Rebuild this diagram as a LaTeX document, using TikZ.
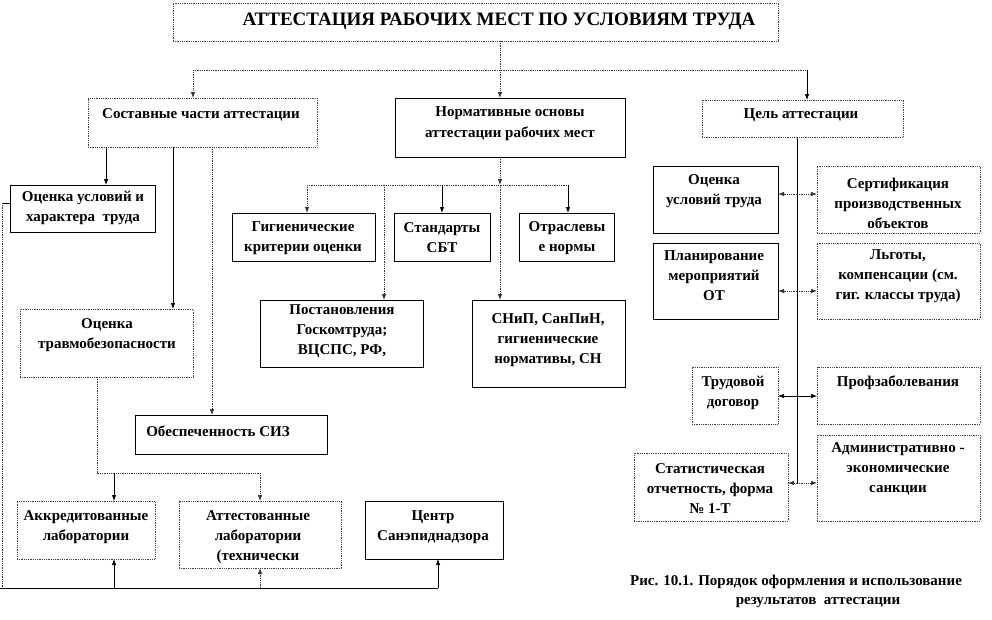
\documentclass[tikz,border=0pt]{standalone}
\usepackage{fontspec}
\setmainfont{Liberation Serif}
\usetikzlibrary{arrows.meta,calc}
\tikzset{
 sbox/.style={draw=black, line width=0.6pt, inner sep=0pt, outer sep=0pt, anchor=north west},
 dbox/.style={draw=black!75, densely dotted, line width=0.8pt, inner sep=0pt, outer sep=0pt, anchor=north west},
 txt/.style={font=\bfseries\fontsize{15}{20}\selectfont, align=center, inner sep=0pt},
 sl/.style={line width=0.7pt, draw=black},
 dl/.style={line width=0.8pt, densely dotted, draw=black!80},
 tip/.style={-{Latex[length=6pt,width=4.5pt]}},
}
\newcommand{\mkbox}[6]{\node[#6, minimum width={(#4-#2)*1pt}, minimum height={(#5-#3)*1pt}] (#1) at (#2,#3) {};}
\begin{document}
\begin{tikzpicture}[x=1pt,y=-1pt]
\useasboundingbox (0,0) rectangle (992,619);
% boxes
\mkbox{title}{173}{3}{778}{41}{dbox}
\mkbox{sost}{88}{98}{317}{147}{dbox}
\mkbox{norm}{395}{98}{625}{157}{sbox}
\mkbox{cel}{702}{100}{903}{137}{dbox}
\mkbox{ouh}{10}{185}{155}{232}{sbox}
\mkbox{gig}{232}{213}{375}{261}{sbox}
\mkbox{std}{394}{213}{490}{261}{sbox}
\mkbox{otr}{519}{213}{614}{261}{sbox}
\mkbox{post}{260}{300}{423}{367}{sbox}
\mkbox{snip}{472}{300}{625}{387}{sbox}
\mkbox{otb}{20}{309}{193}{377}{dbox}
\mkbox{siz}{135}{415}{327}{454}{sbox}
\mkbox{akk}{17}{501}{155}{559}{dbox}
\mkbox{att}{179}{501}{341}{568}{dbox}
\mkbox{cen}{365}{501}{503}{559}{sbox}
\mkbox{ouc}{653}{166}{778}{233}{sbox}
\mkbox{sert}{817}{166}{980}{233}{dbox}
\mkbox{plan}{653}{243}{778}{319}{sbox}
\mkbox{lgot}{817}{243}{980}{319}{dbox}
\mkbox{trud}{692}{367}{778}{424}{dbox}
\mkbox{prof}{817}{367}{980}{424}{dbox}
\mkbox{adm}{817}{435}{980}{521}{dbox}
\mkbox{stat}{634}{453}{788}{521}{dbox}
% texts
\node[txt,font=\bfseries\fontsize{19}{22}\selectfont] (tT) at (499,21) {АТТЕСТАЦИЯ РАБОЧИХ МЕСТ ПО УСЛОВИЯМ ТРУДА};
\node[txt] (sostT) at (201,115) {Составные части аттестации};
\node[txt] (normT) at (510,124) {Нормативные основы\\[1pt]аттестации рабочих мест};
\node[txt] (celT) at (801,115) {Цель аттестации};
\node[txt] (ouhT) at (83,208) {Оценка условий и\\характера~ труда};
\node[txt] (gigT) at (303,238) {Гигиенические\\критерии оценки};
\node[txt] (stdT) at (442,238) {Стандарты\\СБТ};
\node[txt] (otrT) at (567,238) {Отраслевы\\е нормы};
\node[txt] (postT) at (342,331) {Постановления\\Госкомтруда;\\ВЦСПС, РФ,};
\node[txt] (snipT) at (548,340) {СНиП, СанПиН,\\гигиенические\\нормативы, СН};
\node[txt] (otbT) at (107,335) {Оценка\\травмобезопасности};
\node[txt] (sizT) at (218,431) {Обеспеченность СИЗ};
\node[txt] (akkT) at (86,527) {Аккредитованные\\лаборатории};
\node[txt] (attT) at (258,537) {Аттестованные\\лаборатории\\(технически};
\node[txt] (cenT) at (433,527) {Центр\\Санэпиднадзора};
\node[txt] (oucT) at (714,191) {Оценка\\условий труда};
\node[txt] (sertT) at (898,203) {Сертификация\\производственных\\объектов};
\node[txt] (planT) at (714,276) {Планирование\\мероприятий\\ОТ};
\node[txt] (lgotT) at (898,276) {Льготы,\\компенсации (см.\\гиг. классы труда)};
\node[txt] (trudT) at (733,393) {Трудовой\\договор};
\node[txt] (profT) at (898,383) {Профзаболевания};
\node[txt] (admT) at (898,469) {Административно -\\экономические\\санкции};
\node[txt] (statT) at (710,489) {Статистическая\\отчетность, форма\\№ 1-Т};
\node[txt] (cap1) at (796,582) {Рис. 10.1. Порядок оформления и использование};
\node[txt] (cap2) at (818,603) {результатов~ аттестации};
% coordinates
\coordinate (xT) at (500,0);
\coordinate (xL) at (193,0);
\coordinate (xR) at (807,0);
\coordinate (yH) at (0,70);
\coordinate (x106) at (106,0);
\coordinate (x173) at (173,0);
\coordinate (x212) at (212,0);
\coordinate (y185) at (0,185);
\coordinate (x307) at (307,0);
\coordinate (x384) at (384,0);
\coordinate (x442) at (442,0);
\coordinate (x568) at (568,0);
\coordinate (x97) at (97,0);
\coordinate (x114) at (114,0);
\coordinate (x260) at (260,0);
\coordinate (x438) at (438,0);
\coordinate (x2) at (2,0);
\coordinate (y473) at (0,473);
\coordinate (y588) at (0,588);
\coordinate (y203) at (0,203);
\coordinate (x797) at (797,0);
\coordinate (y194) at (0,194);
\coordinate (y291) at (0,291);
\coordinate (y396) at (0,396);
\coordinate (y483) at (0,483);
% top connectors
\draw[dl] (title.south -| xT) -- (xT |- yH);
\draw[dl] (xL |- yH) -- (xR |- yH);
\draw[dl,tip] (xL |- yH) -- (sost.north -| xL);
\draw[dl,tip] (xT |- yH) -- (norm.north -| xT);
\draw[sl,tip] (xR |- yH) -- (cel.north -| xR);
% sost children
\draw[sl,tip] (sost.south -| x106) -- (ouh.north -| x106);
\draw[sl,tip] (sost.south -| x173) -- (otb.north -| x173);
\draw[dl,tip] (sost.south -| x212) -- (siz.north -| x212);
% norm children
\draw[dl,tip] (norm.south -| xT) -- (xT |- y185);
\draw[dl,tip] (xT |- y185) -- (snip.north -| xT);
\draw[dl] (x307 |- y185) -- (x568 |- y185);
\draw[dl,tip] (x307 |- y185) -- (gig.north -| x307);
\draw[sl,tip] (x442 |- y185) -- (std.north -| x442);
\draw[sl,tip] (x568 |- y185) -- (otr.north -| x568);
\draw[dl,tip] (x384 |- y185) -- (post.north -| x384);
% labs
\draw[dl] (otb.south -| x97) -- (x97 |- y473) -- (x260 |- y473);
\draw[dl,tip] (x260 |- y473) -- (att.north -| x260);
\draw[sl,tip] (x114 |- y473) -- (akk.north -| x114);
\draw[sl] (0,588) -- (x438 |- y588);
\draw[sl,tip] (x114 |- y588) -- (akk.south -| x114);
\draw[dl,tip] (x260 |- y588) -- (att.south -| x260);
\draw[sl,tip] (x438 |- y588) -- (cen.south -| x438);
\draw[sl] (ouh.west |- y203) -- (x2 |- y203);
\draw[dl] (x2 |- y203) -- (x2 |- y588);
% goal
\draw[sl] (cel.south -| x797) -- (x797 |- y483);
\draw[dl,tip] (x797 |- y194) -- (ouc.east |- y194);
\draw[dl,tip] (x797 |- y194) -- (sert.west |- y194);
\draw[dl,tip] (x797 |- y291) -- (plan.east |- y291);
\draw[dl,tip] (x797 |- y291) -- (lgot.west |- y291);
\draw[sl,tip] (x797 |- y396) -- (trud.east |- y396);
\draw[sl,tip] (x797 |- y396) -- (prof.west |- y396);
\draw[dl,tip] (x797 |- y483) -- (stat.east |- y483);
\draw[dl,tip] (x797 |- y483) -- (adm.west |- y483);
\end{tikzpicture}
\end{document}
